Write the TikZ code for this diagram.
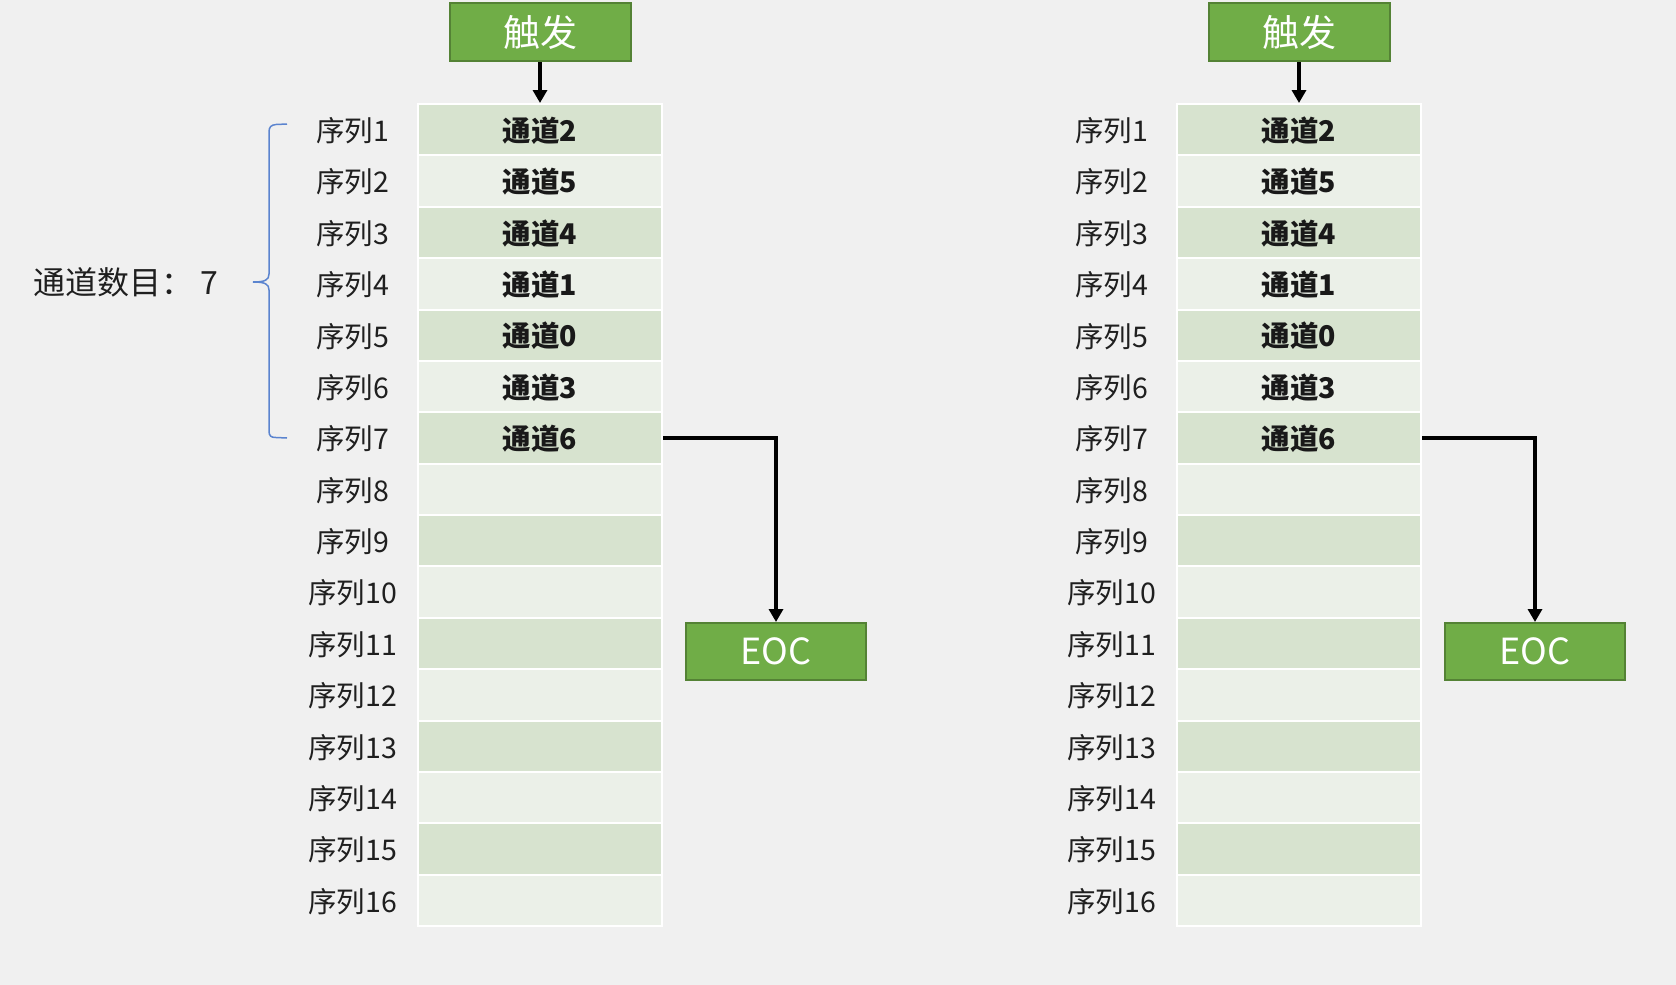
\documentclass[tikz,border=0pt]{standalone}
\usepackage{fontspec}
\setmainfont{Noto Sans CJK SC}
\usetikzlibrary{arrows.meta}
\definecolor{bg}{HTML}{F0F0F0}
\definecolor{rowA}{HTML}{D7E3CF}
\definecolor{rowB}{HTML}{EBF0E8}
\definecolor{gfill}{HTML}{70AD47}
\definecolor{gdraw}{HTML}{548235}
\definecolor{bracecol}{HTML}{5B84CF}
\tikzset{
 cell/.style={draw=white, line width=2pt, minimum width=244pt, minimum height=51.375pt, inner sep=0pt, font=\fontsize{28.5}{30}\selectfont\bfseries},
 seqlabel/.style={font=\fontsize{28.5}{30}\selectfont, inner sep=0pt, text=black!88},
 chlabel/.style={font=\fontsize{28.5}{30}\selectfont\bfseries, inner sep=0pt, text=black!90},
 gbox/.style={fill=gfill, draw=gdraw, line width=2pt, text=white, inner sep=0pt},
 conn/.style={line width=4pt, -{Triangle[length=13pt,width=14pt]}},
 bracestyle/.style={draw=bracecol, line width=1.5pt}
}
\begin{document}
\begin{tikzpicture}[x=1pt,y=-1pt]
\fill[bg] (0,0) rectangle (1676,985);
\useasboundingbox (0,0) rectangle (1676,985);
\foreach \s/\dx in {a/0,b/759}{
  \foreach \i in {1,...,16}{
    \pgfmathsetmacro{\yy}{104+(\i-0.5)*51.375}
    \pgfmathtruncatemacro{\odd}{mod(\i,2)}
    \ifnum\odd=1 \def\rc{rowA}\else\def\rc{rowB}\fi
    \node[cell, fill=\rc] (c\s\i) at (540+\dx,\yy) {};
    \node[seqlabel] (l\s\i) at (352.5+\dx,\yy+1) {序列\i};
  }
  \foreach \i/\ch in {1/2,2/5,3/4,4/1,5/0,6/3,7/6}{
    \node[chlabel] (t\s\i) at ([yshift=-1pt]c\s\i.center) {通道\ch};
  }
  \node[gbox, minimum width=181pt, minimum height=58pt, font=\fontsize{37}{40}\selectfont] (trig\s) at (540+\dx,32) {触发};
  \node[gbox, minimum width=180pt, minimum height=57pt, font=\fontsize{36}{40}\selectfont] (eoc\s) at (776+\dx,651.5) {EOC};
  \draw[conn] (trig\s.south) -- (c\s1.north);
  \draw[conn] (c\s7.east) -| (eoc\s.north);
}
\node[anchor=west, inner sep=0pt, font=\fontsize{32}{34}\selectfont, text=black!88] (count) at (33,282) {通道数目： 7};
\draw[bracestyle] (287,124) -- (276,124.5) .. controls (271,125) and (269,127) .. (269,132) -- (269,274)
  .. controls (269,280) and (265,282) .. (253,282)
  .. controls (265,282) and (269,284) .. (269,290) -- (269,431)
  .. controls (269,436) and (271,437.5) .. (276,437.5) -- (287,438);
\end{tikzpicture}
\end{document}
